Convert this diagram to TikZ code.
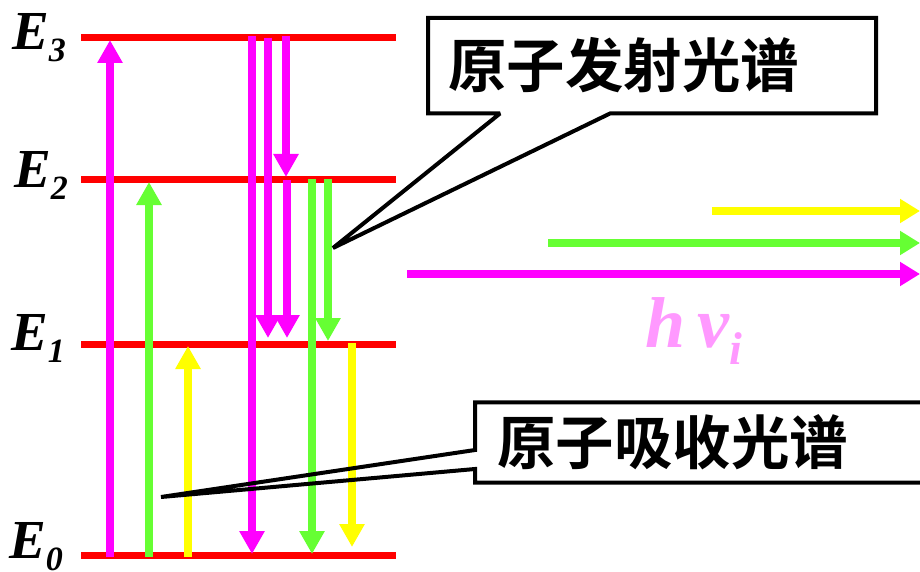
\documentclass[tikz,border=0pt]{standalone}
\usepackage{fontspec}
\setmainfont{Liberation Serif}
\newfontfamily\cjk{Noto Sans CJK SC}[BoldFont={Noto Sans CJK SC Bold}]
\usetikzlibrary{arrows.meta}
\definecolor{mag}{HTML}{FF00FF}
\definecolor{grn}{HTML}{66FF33}
\definecolor{yel}{HTML}{FFFF00}
\definecolor{lvl}{HTML}{FF0000}
\definecolor{pnk}{HTML}{FF99FF}
\tikzset{
  level/.style={draw=lvl, line width=7pt},
  vtrans/.style={line width=8pt, -{Triangle[width=24pt,length=23pt]}},
  htrans/.style={line width=8pt, -{Triangle[width=23pt,length=20pt]}},
  elabel/.style={anchor=base west, inner sep=0pt, font=\fontsize{55}{60}\selectfont\bfseries\itshape},
  cbox/.style={anchor=west, inner xsep=20pt, inner ysep=0pt, align=left,
     font=\cjk\bfseries\fontsize{58.5}{62}\selectfont},
  cline/.style={draw=black, line width=4pt, line join=miter, miter limit=2}
}
\newcommand{\Elab}[1]{E\raisebox{-12pt}{\fontsize{34}{36}\selectfont #1}}
\begin{document}
\begin{tikzpicture}[x=1pt,y=-1pt]
\useasboundingbox[fill=white] (0,0) rectangle (920,572);
% energy levels
\coordinate (l3a) at (81,38);  \coordinate (l3b) at (396,38);
\coordinate (l2a) at (81,179.5); \coordinate (l2b) at (396,179.5);
\coordinate (l1a) at (81,344); \coordinate (l1b) at (396,344);
\coordinate (l0a) at (81,555); \coordinate (l0b) at (396,555);
\draw[level] (l3a) -- (l3b);
\draw[level] (l2a) -- (l2b);
\draw[level] (l1a) -- (l1b);
\draw[level] (l0a) -- (l0b);
% labels
\node[elabel] (e3) at (12,50) {\Elab{3}};
\node[elabel] (e2) at (14,187) {\Elab{2}};
\node[elabel] (e1) at (11,350) {\Elab{1}};
\node[elabel] (e0) at (9,558) {\Elab{0}};
% absorption (up)
\coordinate (a1s) at (110,557); \coordinate (a1e) at (110,40);
\coordinate (a2s) at (149,557); \coordinate (a2e) at (149,182);
\coordinate (a3s) at (188,557); \coordinate (a3e) at (188,346);
\draw[vtrans, mag] (a1s) -- (a1e);
\draw[vtrans, grn] (a2s) -- (a2e);
\draw[vtrans, yel] (a3s) -- (a3e);
% emission (down)
\coordinate (m1s) at (252,36); \coordinate (m1e) at (252,554);
\coordinate (m2s) at (268,38); \coordinate (m2e) at (268,338);
\coordinate (m3s) at (286,36); \coordinate (m3e) at (286,177);
\coordinate (m4s) at (287,180); \coordinate (m4e) at (287,338);
\coordinate (g1s) at (312,179); \coordinate (g1e) at (312,554);
\coordinate (g2s) at (328,179); \coordinate (g2e) at (328,341);
\coordinate (y1s) at (352,343); \coordinate (y1e) at (352,547);
\draw[vtrans, mag] (m1s) -- (m1e);
\draw[vtrans, mag] (m2s) -- (m2e);
\draw[vtrans, mag] (m3s) -- (m3e);
\draw[vtrans, mag] (m4s) -- (m4e);
\draw[vtrans, grn] (g1s) -- (g1e);
\draw[vtrans, grn] (g2s) -- (g2e);
\draw[vtrans, yel] (y1s) -- (y1e);
% photons
\coordinate (py1) at (712,211); \coordinate (py2) at (920,211);
\coordinate (pg1) at (548,243); \coordinate (pg2) at (920,243);
\coordinate (pm1) at (407,274); \coordinate (pm2) at (920,274);
\draw[htrans, yel] (py1) -- (py2);
\draw[htrans, grn] (pg1) -- (pg2);
\draw[htrans, mag] (pm1) -- (pm2);
\node[anchor=base west, inner sep=0pt, text=pnk, font=\fontsize{72}{76}\selectfont\bfseries\itshape] (hnu) at (645,347)
  {h\hspace{12pt}ν\raisebox{-17pt}{\fontsize{46}{48}\selectfont i}};
% callout 1: emission
\coordinate (b1nw) at (428,18); \coordinate (b1ne) at (876,18);
\coordinate (b1se) at (876,113.5); \coordinate (b1sw) at (428,113.5);
\coordinate (t1) at (333,248);
\coordinate (w1a) at (500,113.5); \coordinate (w1b) at (610,113.5);
\draw[cline, fill=white] (b1sw) -- (b1nw) -- (b1ne) -- (b1se) -- (w1b) -- (t1) -- (w1a) -- cycle;
\node[cbox, minimum height=95pt, text width=408pt] (box1) at (428,65.5) {原子发射光谱};
% callout 2: absorption
\node[cbox, fill=white, minimum height=80pt, text width=415pt, inner xsep=22pt] (box2) at (475,442.5) {原子吸收光谱};
\coordinate (t2) at (161,497);
\coordinate (w2a) at (475,450); \coordinate (w2b) at (475,469);
\draw[cline] (box2.north east) -- (box2.north west) -- (w2a) -- (t2) -- (w2b) -- (box2.south west) -- (box2.south east);
\end{tikzpicture}
\end{document}
